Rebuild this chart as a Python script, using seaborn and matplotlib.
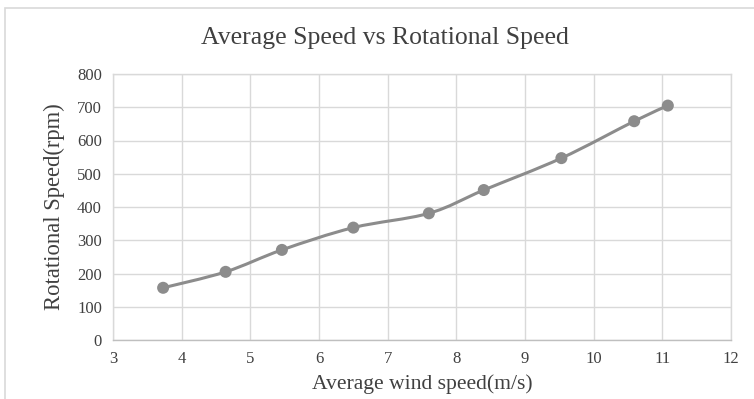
import numpy as np
import pandas as pd
import matplotlib
matplotlib.use("Agg")
import matplotlib.pyplot as plt
import seaborn as sns
from matplotlib.path import Path
from matplotlib.patches import PathPatch, Rectangle

wind_speed = [3.73, 4.64, 5.46, 6.50, 7.60, 8.40, 9.53, 10.59, 11.08]
rot_speed = [157, 205, 271, 338, 381, 451, 547, 658, 705]
x_ticks = [3, 4, 5, 6, 7, 8, 9, 10, 11, 12]
y_ticks = [0, 100, 200, 300, 400, 500, 600, 700, 800]

title = "Average Speed vs Rotational Speed"
xlabel = "Average wind speed(m/s)"
ylabel = "Rotational Speed(rpm)"

df = pd.DataFrame({"x": wind_speed, "y": rot_speed})

sns.set_theme(style="white")
plt.rcParams["font.family"] = ["Liberation Serif", "DejaVu Serif"]

fig = plt.figure(figsize=(7.54, 3.99), dpi=100)
ax = fig.add_axes([113/754, 1-340/399, (731-113)/754, (340-74)/399])

grid_c = "#d9d9d9"
line_c = "#8c8c8c"

# smoothed (Excel-like) Bezier path through the data
xs = np.array(wind_speed, float)
ys = np.array(rot_speed, float)
verts = [(xs[0], ys[0])]
codes = [Path.MOVETO]
t = 1/6
n = len(xs)
for i in range(n - 1):
    p0 = np.array([xs[max(i-1, 0)], ys[max(i-1, 0)]])
    p1 = np.array([xs[i], ys[i]])
    p2 = np.array([xs[i+1], ys[i+1]])
    p3 = np.array([xs[min(i+2, n-1)], ys[min(i+2, n-1)]])
    c1 = p1 + (p2 - p0) * t
    c2 = p2 - (p3 - p1) * t
    verts += [tuple(c1), tuple(c2), tuple(p2)]
    codes += [Path.CURVE4] * 3
ax.add_patch(PathPatch(Path(verts, codes), facecolor="none", edgecolor=line_c, lw=2.2, zorder=3))

sns.scatterplot(data=df, x="x", y="y", ax=ax, color=line_c, s=75, edgecolor="none", zorder=4)

ax.set_xlim(3, 12)
ax.set_ylim(0, 800)
ax.set_xticks(x_ticks)
ax.set_yticks(y_ticks)
ax.set_xticklabels([str(v) for v in x_ticks], fontsize=12, color="#404040")
ax.set_yticklabels([str(v) for v in y_ticks], fontsize=12, color="#404040")
ax.tick_params(length=0, pad=8)
ax.grid(True, color=grid_c, lw=1)
for s in ax.spines.values():
    s.set_color(grid_c)
    s.set_linewidth(1)
ax.spines["bottom"].set_color("#bfbfbf")

ax.set_xlabel(xlabel, fontsize=15.6, color="#404040", labelpad=5)
ax.set_ylabel(ylabel, fontsize=16.3, color="#404040", labelpad=9)
fig.text(385/754, 1-38/399, title, fontsize=18.5, color="#404040", ha="center", va="center")

fig.patches.append(Rectangle((5/754, -0.1), 1.2, 1.1 - 8/399, transform=fig.transFigure,
                             facecolor="none", edgecolor="#d9d9d9", lw=1.2))

fig.savefig("out.png", dpi=100)
